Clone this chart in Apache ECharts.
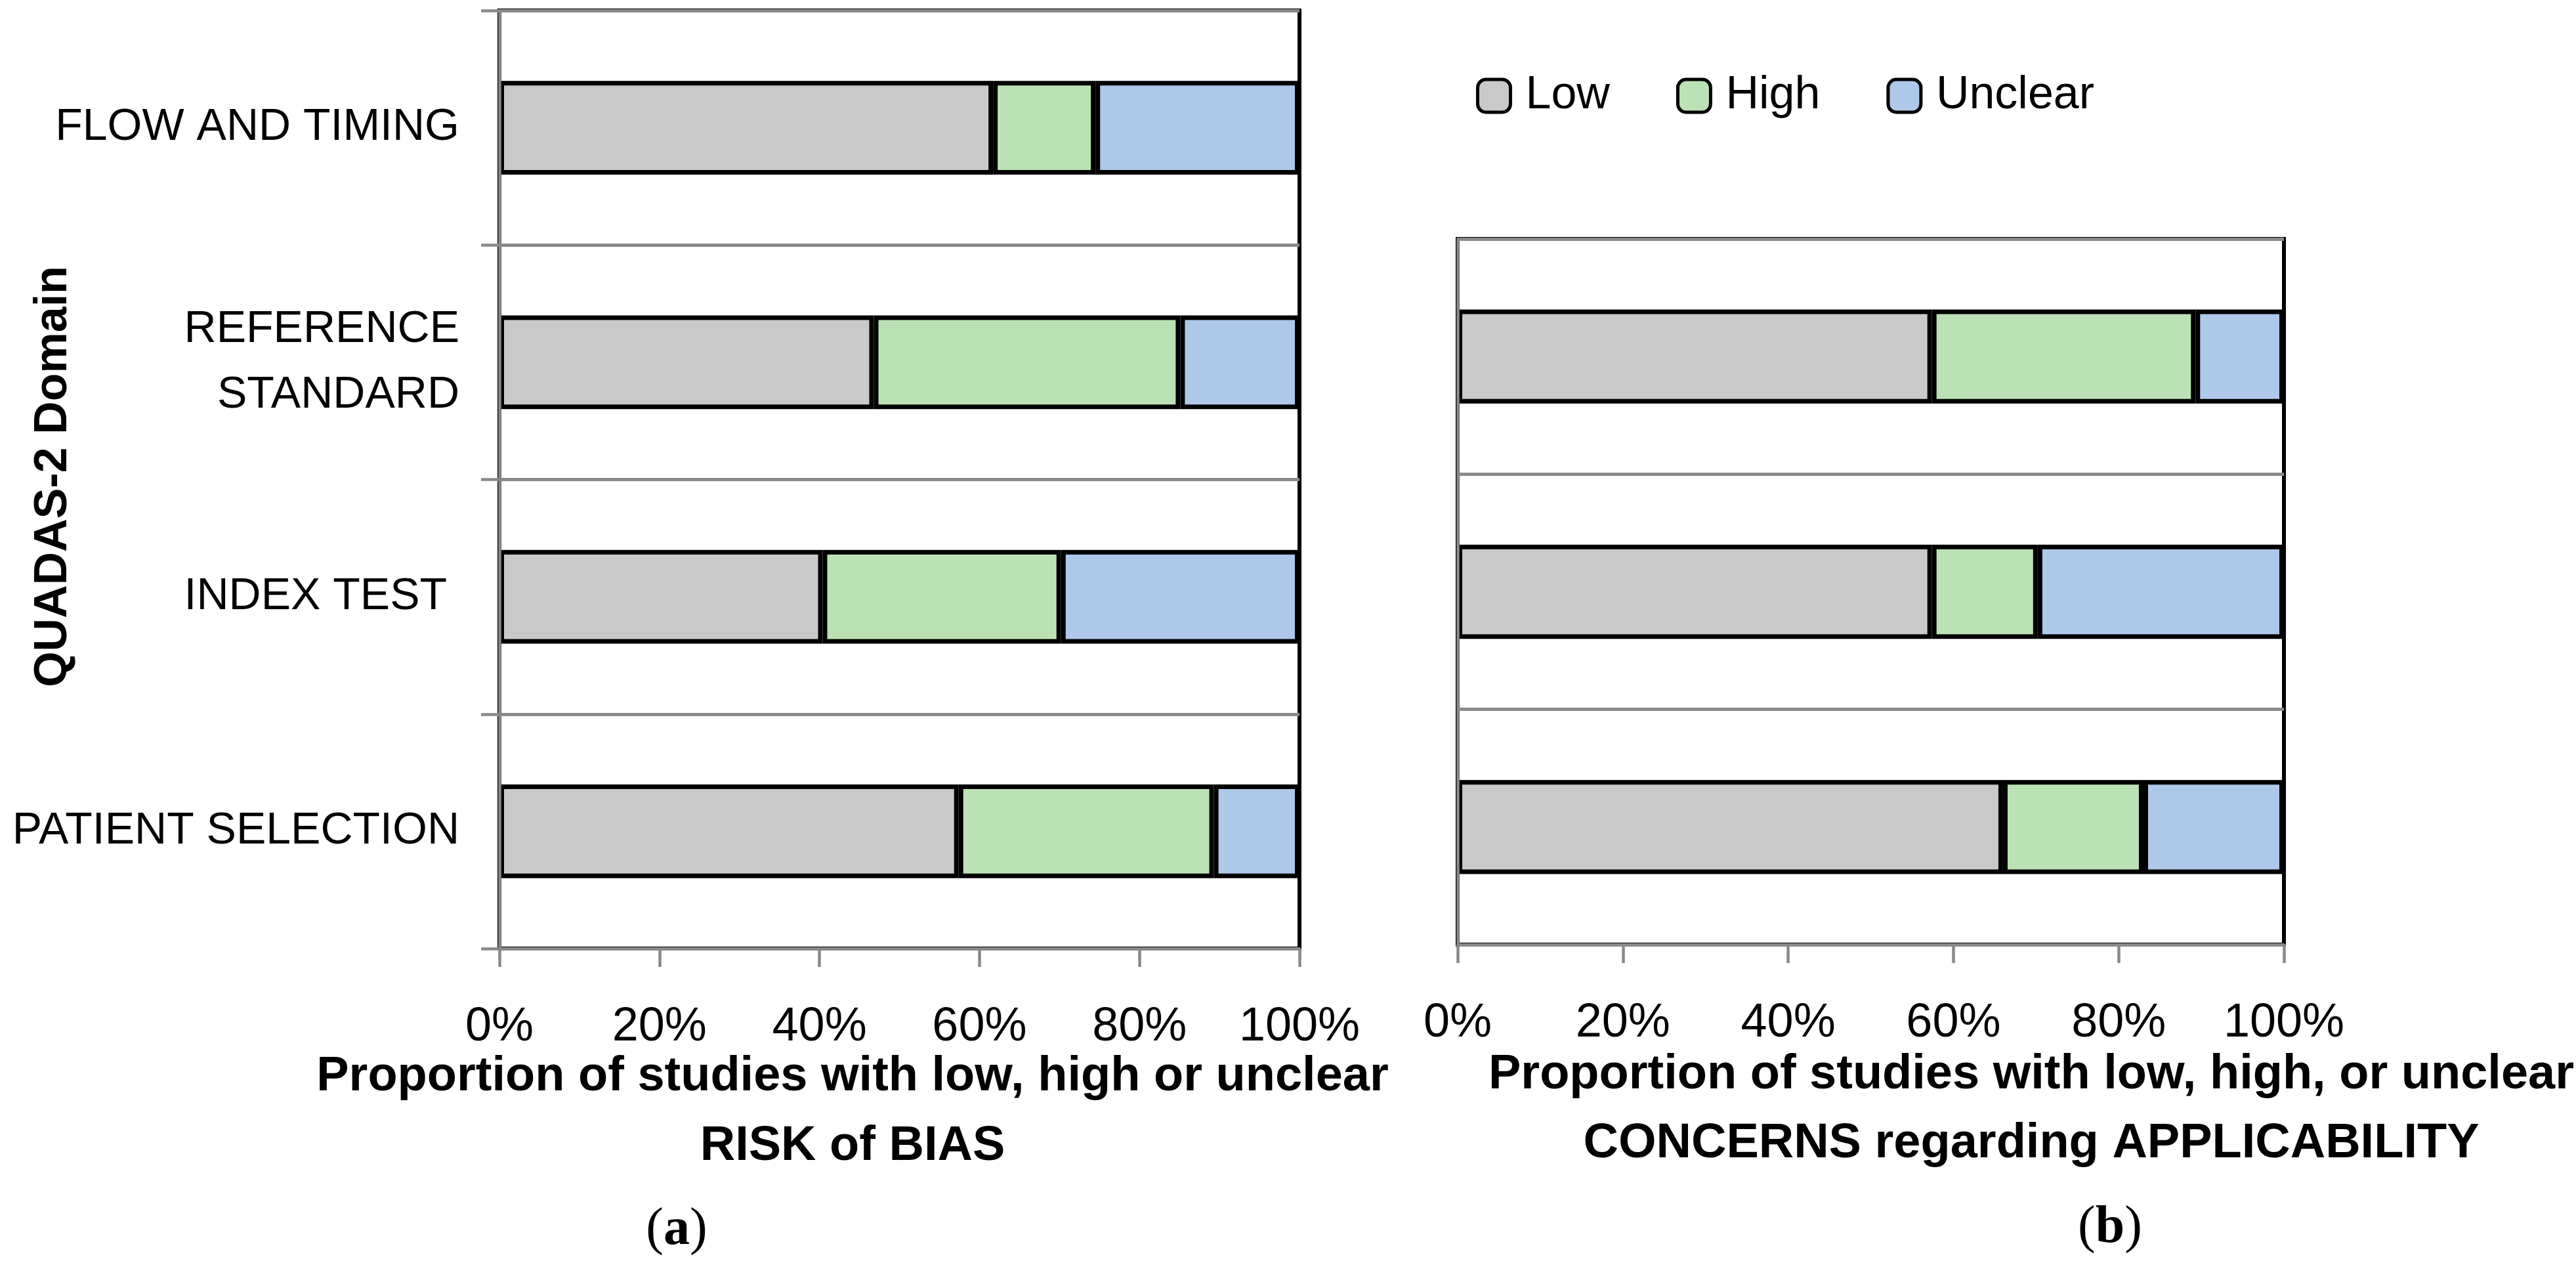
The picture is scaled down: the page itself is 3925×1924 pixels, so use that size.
<!DOCTYPE html>
<html>
<head>
<meta charset="utf-8">
<title>QUADAS-2 summary</title>
<script src="https://cdn.jsdelivr.net/npm/echarts@6/dist/echarts.min.js"></script>
<style>
html, body { margin: 0; padding: 0; background: #fff; }
#chart { width: 3925px; height: 1924px; }
</style>
</head>
<body>
<div id="chart"></div>
<script>
// domains, listed bottom to top (trailing space as in the original label)
var domainsA = ['PATIENT SELECTION', 'INDEX TEST ', 'REFERENCE\nSTANDARD', 'FLOW AND TIMING'];
var domainsB = ['PATIENT SELECTION', 'INDEX TEST', 'REFERENCE STANDARD'];
var levels = ['Low', 'High', 'Unclear'];
var colors = ['#c9c9c9', '#bbe2b4', '#aec8e9'];
var xTicks = [0, 20, 40, 60, 80, 100];

// (a) risk of bias, % of studies
var biasLow = [57.4, 40.4, 46.8, 61.7];
var biasHigh = [31.9, 29.8, 38.3, 12.8];
var biasUnclear = [10.7, 29.8, 14.9, 25.5];

// (b) concerns regarding applicability, % of studies
var applLow = [66.0, 57.4, 57.4];
var applHigh = [17.0, 12.8, 31.9];
var applUnclear = [17.0, 29.8, 10.7];

var gray = '#898989';
var font = 'Liberation Sans, Arial, sans-serif';
var serif = 'Liberation Serif, Times New Roman, serif';

function valueAxis(idx) {
    return {
        type: 'value', gridIndex: idx, z: 3,
        min: xTicks[0], max: xTicks[xTicks.length - 1], interval: xTicks[1] - xTicks[0],
        axisLine: { show: true, lineStyle: { color: gray, width: 4.5 } },
        axisTick: { show: true, length: 28, lineStyle: { color: gray, width: 4.5 } },
        axisLabel: { formatter: '{value}%', color: '#000', fontSize: 72, fontFamily: font, margin: 84 },
        splitLine: { show: false }
    };
}

function catAxis(idx, data, withLabels) {
    return {
        type: 'category', gridIndex: idx, data: data, z: 3,
        axisLine: { show: true, lineStyle: { color: gray, width: 4.5 } },
        axisTick: { show: withLabels, length: 28, lineStyle: { color: gray, width: 4.5 } },
        axisLabel: { show: withLabels, color: '#000', fontSize: 68, fontFamily: font, margin: 61, lineHeight: 100 },
        splitLine: { show: true, lineStyle: { color: gray, width: 5 } }
    };
}

function bars(i, data, idx) {
    return {
        name: levels[i], type: 'bar', stack: 'g' + idx,
        xAxisIndex: idx, yAxisIndex: idx, data: data, barWidth: '40%',
        itemStyle: { color: colors[i], borderColor: '#000', borderWidth: 7 },
        emphasis: { disabled: true }
    };
}

var gridBase = { show: true, borderColor: '#000', borderWidth: 6, backgroundColor: 'transparent', outerBoundsMode: 'none' };

var option = {
    backgroundColor: '#fff',
    animation: false,
    grid: [
        Object.assign({ left: 761, right: 1945, top: 16, bottom: 479 }, gridBase),
        Object.assign({ left: 2221, right: 445, top: 364, bottom: 485 }, gridBase)
    ],
    xAxis: [valueAxis(0), valueAxis(1)],
    yAxis: [catAxis(0, domainsA, true), catAxis(1, domainsB, false)],
    legend: {
        data: levels, left: 2249, top: 111, padding: 0,
        itemWidth: 50, itemHeight: 50, itemGap: 101, icon: 'roundRect', selectedMode: false,
        itemStyle: { borderColor: '#000', borderWidth: 5 },
        textStyle: { fontSize: 70, fontFamily: font, color: '#000', padding: [0, 0, 0, 18] }
    },
    series: [
        bars(0, biasLow, 0), bars(1, biasHigh, 0), bars(2, biasUnclear, 0),
        bars(0, applLow, 1), bars(1, applHigh, 1), bars(2, applUnclear, 1)
    ],
    graphic: [
        { type: 'text', x: 82, y: 726, rotation: Math.PI / 2,
          style: { text: 'QUADAS-2 Domain', fontSize: 70, fontWeight: 'bold', fontFamily: font, fill: '#000', align: 'center', verticalAlign: 'middle' } },
        { type: 'text', x: 1299, y: 1694,
          style: { text: 'Proportion of studies with low, high or unclear\nRISK of BIAS', fontSize: 74, fontWeight: 'bold', fontFamily: font, lineHeight: 106, fill: '#000', align: 'center', verticalAlign: 'middle' } },
        { type: 'text', x: 3095, y: 1690,
          style: { text: 'Proportion of studies with low, high, or unclear\nCONCERNS regarding APPLICABILITY', fontSize: 74, fontWeight: 'bold', fontFamily: font, lineHeight: 105, fill: '#000', align: 'center', verticalAlign: 'middle' } },
        { type: 'text', x: 1031, y: 1874,
          style: { text: '{p|(}{l|a}{p|)}', align: 'center', verticalAlign: 'middle',
                   rich: { p: { fontSize: 80, fontFamily: serif, fill: '#000' }, l: { fontSize: 80, fontFamily: serif, fontWeight: 'bold', fill: '#000' } } } },
        { type: 'text', x: 3215, y: 1871,
          style: { text: '{p|(}{l|b}{p|)}', align: 'center', verticalAlign: 'middle',
                   rich: { p: { fontSize: 80, fontFamily: serif, fill: '#000' }, l: { fontSize: 80, fontFamily: serif, fontWeight: 'bold', fill: '#000' } } } }
    ]
};

var myChart = echarts.init(document.getElementById('chart'), null, { renderer: 'canvas' });
myChart.setOption(option);
</script>
</body>
</html>
